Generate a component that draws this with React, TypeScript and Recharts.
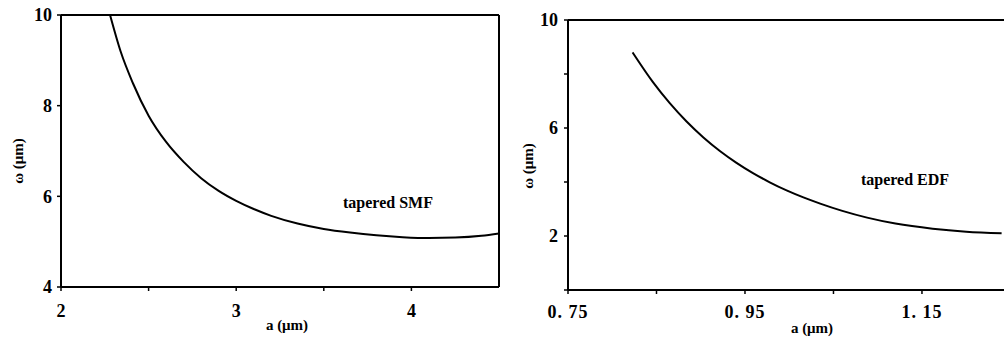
import React from 'react';
import { LineChart, Line, XAxis, YAxis, ReferenceLine } from 'recharts';

// Left panel: tapered SMF
const smfA = [2.28, 2.34, 2.41, 2.5, 2.6, 2.7, 2.8, 2.9, 3.0, 3.1, 3.2, 3.35, 3.5, 3.65, 3.8, 3.95, 4.1, 4.25, 4.4, 4.5];
const smfW = [10, 9.2, 8.5, 7.78, 7.2, 6.76, 6.4, 6.12, 5.9, 5.72, 5.57, 5.4, 5.28, 5.2, 5.14, 5.1, 5.08, 5.09, 5.13, 5.18];
const smfXTicks = [2, 2.5, 3, 3.5, 4];
const smfXLabels = [2, 3, 4];
const smfYTicks = [4, 6, 8, 10];

// Right panel: tapered EDF
const edfA = [0.823, 0.846, 0.865, 0.884, 0.903, 0.922, 0.94, 0.959, 0.978, 0.997, 1.016, 1.035, 1.06, 1.088, 1.12, 1.162, 1.2, 1.24];
const edfW = [8.8, 7.7, 6.92, 6.24, 5.65, 5.14, 4.72, 4.33, 3.99, 3.69, 3.43, 3.2, 2.93, 2.68, 2.46, 2.27, 2.16, 2.1];
const edfXTicks = [0.75, 0.85, 0.95, 1.05, 1.15];
const edfXLabels = [0.75, 0.95, 1.15];
const edfYTicks = [0, 2, 4, 6, 8, 10];
const edfYLabels = [2, 6, 10];

const smfData = smfA.map((a, i) => ({ a, w: smfW[i] }));
const edfData = edfA.map((a, i) => ({ a, w: edfW[i] }));

const FONT = '"Liberation Serif", "DejaVu Serif", serif';
const tickStyle = { fill: '#000', fontFamily: FONT, fontWeight: 700, fontSize: 18 } as const;
const edfXTickStyle = { ...tickStyle, letterSpacing: 1 } as const;
const axisLine = { stroke: '#000', strokeWidth: 2 };
const tickLine = { stroke: '#000', strokeWidth: 1.5 };

const textStyle: React.CSSProperties = {
  position: 'absolute',
  fontFamily: FONT,
  fontWeight: 700,
  fontSize: 15,
  color: '#000',
  whiteSpace: 'nowrap',
  lineHeight: '1',
};

const fmtEdf = (v: number) => (edfXLabels.some((l) => Math.abs(l - v) < 1e-6) ? v.toFixed(2).replace('.', '. ') : '');

export default function App() {
  return (
    <div style={{ position: 'absolute', left: 0, top: 0, width: 1004, height: 338, background: '#fff', overflow: 'hidden' }}>
      <div style={{ position: 'absolute', left: 0, top: 0 }}>
        <LineChart width={510} height={338} data={smfData} margin={{ top: 15, left: 0, right: 11, bottom: 0 }}>
          <XAxis
            dataKey="a"
            type="number"
            domain={[2, 4.5]}
            ticks={smfXTicks}
            tickFormatter={(v: number) => (smfXLabels.includes(v) ? String(v) : '')}
            height={51}
            axisLine={axisLine}
            tickLine={tickLine}
            tickSize={4}
            tickMargin={13}
            tick={tickStyle}
            interval={0}
            allowDataOverflow
          />
          <YAxis
            type="number"
            domain={[4, 10]}
            ticks={smfYTicks}
            width={61}
            axisLine={axisLine}
            tickLine={tickLine}
            tickSize={4}
            tickMargin={5}
            tick={tickStyle}
            interval={0}
            allowDataOverflow
          />
          <ReferenceLine y={10} stroke="#000" strokeWidth={2} />
          <ReferenceLine x={4.5} stroke="#000" strokeWidth={2} />
          <Line dataKey="w" type="monotone" stroke="#000" strokeWidth={2} dot={false} isAnimationActive={false} />
        </LineChart>
      </div>
      <div style={{ position: 'absolute', left: 510, top: 0 }}>
        <LineChart width={494} height={338} data={edfData} margin={{ top: 20, left: 0, right: 0, bottom: 0 }}>
          <XAxis
            dataKey="a"
            type="number"
            domain={[0.75, 1.2427]}
            ticks={edfXTicks}
            tickFormatter={fmtEdf}
            height={48}
            axisLine={axisLine}
            tickLine={tickLine}
            tickSize={4}
            tickMargin={11}
            tick={edfXTickStyle}
            interval={0}
            allowDataOverflow
          />
          <YAxis
            type="number"
            domain={[0, 10]}
            ticks={edfYTicks}
            tickFormatter={(v: number) => (edfYLabels.includes(v) ? String(v) : '')}
            width={58}
            axisLine={axisLine}
            tickLine={tickLine}
            tickSize={4}
            tickMargin={6}
            tick={tickStyle}
            interval={0}
            allowDataOverflow
          />
          <ReferenceLine y={10} stroke="#000" strokeWidth={2} />
          <Line dataKey="w" type="monotone" stroke="#000" strokeWidth={2} dot={false} isAnimationActive={false} />
        </LineChart>
      </div>

      <div style={{ ...textStyle, left: 18, top: 161, transform: 'translate(-50%, -50%) rotate(-90deg)' }}>ω (μm)</div>
      <div style={{ ...textStyle, left: 528, top: 166, transform: 'translate(-50%, -50%) rotate(-90deg)' }}>ω (μm)</div>
      <div style={{ ...textStyle, left: 287, top: 325, transform: 'translate(-50%, -50%)' }}>a (μm)</div>
      <div style={{ ...textStyle, left: 812, top: 328, transform: 'translate(-50%, -50%)' }}>a (μm)</div>
      <div style={{ ...textStyle, left: 388, top: 203, fontSize: 16, transform: 'translate(-50%, -50%)' }}>tapered SMF</div>
      <div style={{ ...textStyle, left: 905, top: 180, fontSize: 16, transform: 'translate(-50%, -50%)' }}>tapered EDF</div>
    </div>
  );
}
